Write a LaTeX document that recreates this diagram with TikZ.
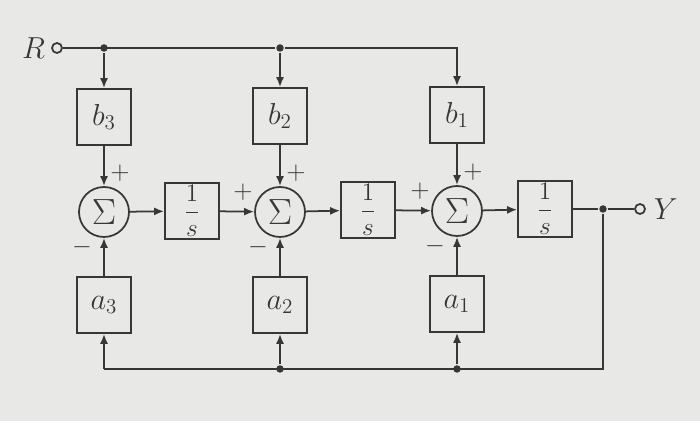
\documentclass[tikz,border=0pt]{standalone}
\usepackage{amsmath}
\usetikzlibrary{arrows.meta,positioning}
\definecolor{paper}{RGB}{232,232,230}
\definecolor{ink}{RGB}{55,55,55}

\begin{document}
\begin{tikzpicture}[x=0.02cm,y=-0.02cm,line width=1pt,draw=ink,text=ink,
	>={Latex[length=2mm,width=1.6mm]},
	blk/.style={draw,minimum width=1.08cm,minimum height=1.12cm,inner sep=0pt,font=\LARGE},
	frac/.style={blk,font=\Large},
	sumnode/.style={draw,circle,minimum size=1cm,inner sep=0pt,font=\huge},
	sig/.style={inner sep=0pt,font=\Large},
	term/.style={draw,circle,minimum size=0.2cm,inner sep=0pt},
	junc/.style={fill=ink,circle,minimum size=0.15cm,inner sep=0pt}]
\fill[paper] (0,0) rectangle (700,421);
\useasboundingbox (0,0) rectangle (700,421);
	\node[term] (R) at (57,48) {};
	\node[left=3pt of R,inner sep=0pt,font=\LARGE] (Rlab) {$R$};
	\node[junc] (j3) at (104,48) {};
	\node[junc] (j2) at (280,48) {};
	\node[blk] (b3) at (104,117) {$b_3$};
	\node[blk] (b2) at (280,116) {$b_2$};
	\node[blk] (b1) at (457,115) {$b_1$};
	\node[sumnode] (s3) at (104,212) {$\Sigma$};
	\node[sumnode] (s2) at (280,212) {$\Sigma$};
	\node[sumnode] (s1) at (457,211) {$\Sigma$};
	\node[frac] (i3) at (192,211) {$\dfrac{1}{s}$};
	\node[frac] (i2) at (368,210) {$\dfrac{1}{s}$};
	\node[frac] (i1) at (545,209) {$\dfrac{1}{s}$};
	\node[blk] (a3) at (104,305) {$a_3$};
	\node[blk] (a2) at (280,305) {$a_2$};
	\node[blk] (a1) at (457,304) {$a_1$};
	\node[junc] (jo) at (603,209) {};
	\node[term] (Y) at (640,209) {};
	\node[right=4pt of Y,inner sep=0pt,font=\LARGE] (Ylab) {$Y$};
	\coordinate (c3) at (104,369);
	\node[junc] (d2) at (280,369) {};
	\node[junc] (d1) at (457,369) {};
	\coordinate (c0) at (603,369);
	\node[sig] (p3) at ([shift={(16,-39)}]s3.center) {$+$};
	\node[sig] (p2) at ([shift={(16,-39)}]s2.center) {$+$};
	\node[sig] (p1) at ([shift={(16,-39)}]s1.center) {$+$};
	\node[sig] (m3) at ([shift={(-22,35)}]s3.center) {$-$};
	\node[sig] (m2) at ([shift={(-22,35)}]s2.center) {$-$};
	\node[sig] (m1) at ([shift={(-22,35)}]s1.center) {$-$};
	\node[sig] (q2) at ([shift={(-37,-20)}]s2.center) {$+$};
	\node[sig] (q1) at ([shift={(-37,-20)}]s1.center) {$+$};
\draw (R) -- (j2);
\draw[->] (j2) -| (b1);
\draw[->] (j3) -- (b3);
\draw[->] (j2) -- (b2);
	\draw[->] (b3) -- (s3);
	\draw[->] (b2) -- (s2);
	\draw[->] (b1) -- (s1);
	\draw[->] (s3) -- (i3);
	\draw[->] (i3) -- (s2);
	\draw[->] (s2) -- (i2);
	\draw[->] (i2) -- (s1);
	\draw[->] (s1) -- (i1);
	\draw (i1) -- (jo) -- (Y);
\draw (jo) -- (c0) -- (c3);
\draw[->] (c3) -- (a3);
\draw[->] (d2) -- (a2);
\draw[->] (d1) -- (a1);
	\draw[->] (a3) -- (s3);
	\draw[->] (a2) -- (s2);
	\draw[->] (a1) -- (s1);
\end{tikzpicture}
\end{document}
